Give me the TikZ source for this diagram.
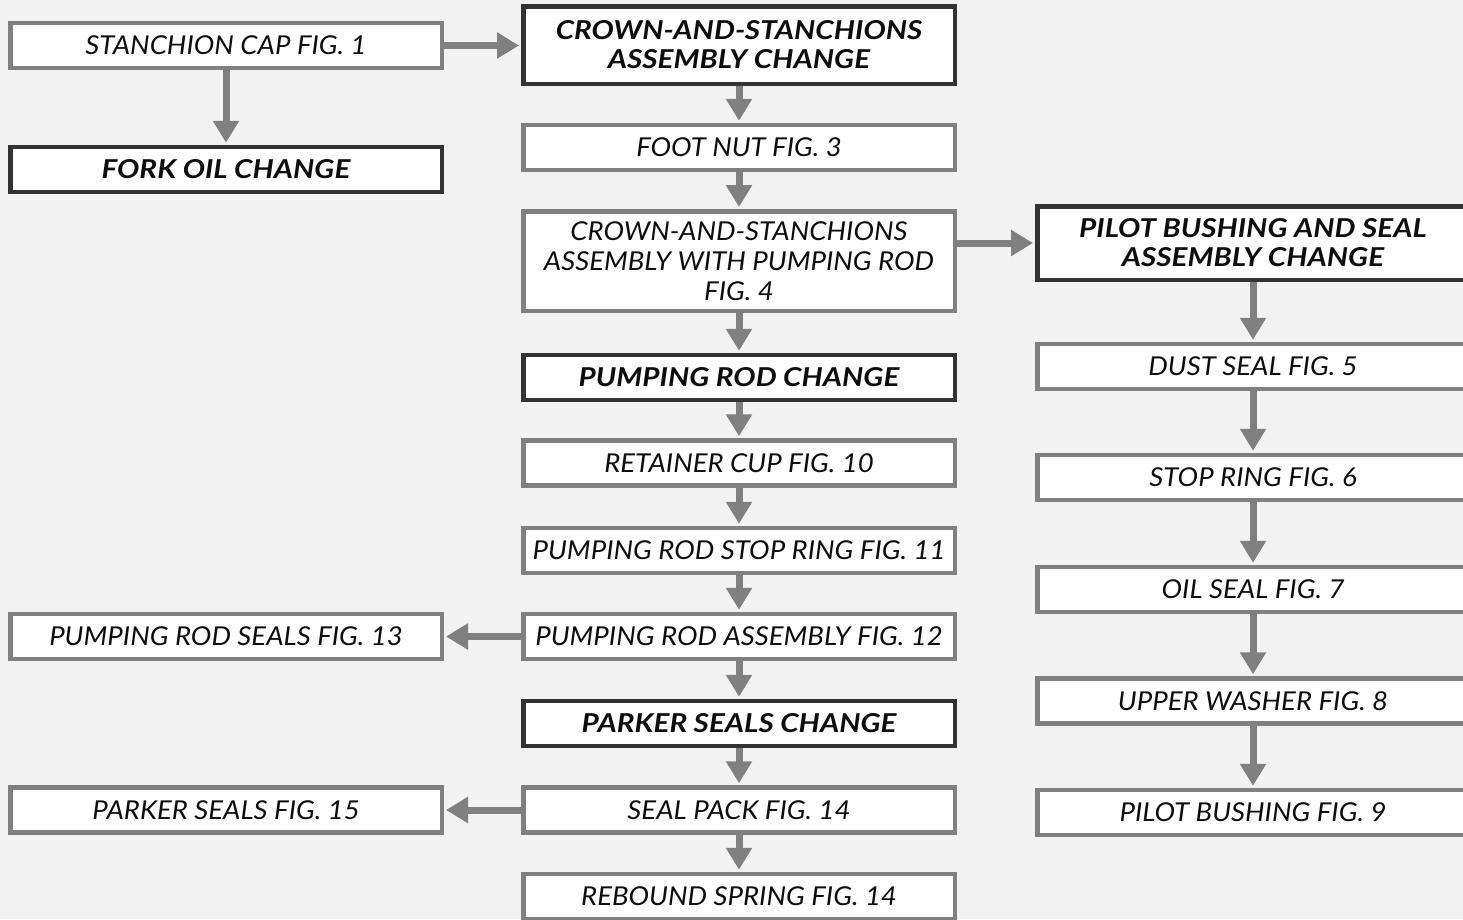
\documentclass[tikz,border=0pt]{standalone}
\usepackage{fontspec}
\setmainfont{Lato}
\newfontfamily\partfont[FakeStretch=1.06]{Lato}
\newfontfamily\headfont[FakeStretch=1.14]{Lato}
\usetikzlibrary{arrows.meta}
\definecolor{pagegray}{HTML}{F2F2F2}
\definecolor{linegray}{HTML}{808080}
\definecolor{darkline}{HTML}{333333}
\definecolor{textblack}{HTML}{0D0D0D}

\begin{document}
\begin{tikzpicture}[x=1pt,y=-1pt,
    partbox/.style={draw=linegray, line width=4.5pt, fill=white,
      minimum width=431.5pt, minimum height=45pt, inner sep=0pt,
      align=center, text=textblack,
      font=\partfont\fontsize{26}{30}\selectfont\itshape},
    changebox/.style={partbox, draw=darkline,
      font=\headfont\fontsize{26}{29}\selectfont\bfseries\itshape},
    flow/.style={draw=linegray, line width=7pt,
      -{Triangle[width=25pt,length=22pt]}, shorten >=2pt}]
  % Background
  \fill[pagegray] (0,0) rectangle (1463,919);
  \useasboundingbox (0,0) rectangle (1463,919);
  % Left column
  \node[partbox] (cap) at (226,45.5) {STANCHION CAP FIG. 1};
  \node[changebox] (forkoil) at (226,169.5) {FORK OIL CHANGE};
  \node[partbox] (rodseals) at (226,636.5) {PUMPING ROD SEALS FIG. 13};
  \node[partbox] (parkerseals) at (226,810) {PARKER SEALS FIG. 15};
  % Middle column
  \node[changebox, minimum height=77.5pt] (crown) at (739,45)
    {CROWN-AND-STANCHIONS\\ASSEMBLY CHANGE};
  \node[partbox] (footnut) at (739,147.5) {FOOT NUT FIG. 3};
  \node[partbox, minimum height=99.5pt] (assy) at (739,261)
    {CROWN-AND-STANCHIONS\\ASSEMBLY WITH PUMPING ROD\\FIG. 4};
  \node[changebox] (pumpchg) at (739,377.5) {PUMPING ROD CHANGE};
  \node[partbox] (retcup) at (739,463) {RETAINER CUP FIG. 10};
  \node[partbox] (rodstop) at (739,550.5) {PUMPING ROD STOP RING FIG. 11};
  \node[partbox] (rodassy) at (739,636.5) {PUMPING ROD ASSEMBLY FIG. 12};
  \node[changebox] (parkerchg) at (739,723.5) {PARKER SEALS CHANGE};
  \node[partbox] (sealpack) at (739,810) {SEAL PACK FIG. 14};
  \node[partbox] (rebound) at (739,896.5) {REBOUND SPRING FIG. 14};
  % Right column
  \node[changebox, minimum height=73.5pt] (pilot) at (1253,243)
    {PILOT BUSHING AND SEAL\\ASSEMBLY CHANGE};
  \node[partbox] (dust) at (1253,366.5) {DUST SEAL FIG. 5};
  \node[partbox] (stopring) at (1253,477.5) {STOP RING FIG. 6};
  \node[partbox] (oilseal) at (1253,589.5) {OIL SEAL FIG. 7};
  \node[partbox] (washer) at (1253,701) {UPPER WASHER FIG. 8};
  \node[partbox] (bushing) at (1253,812.5) {PILOT BUSHING FIG. 9};
  % Arrows
  \draw[flow] (cap.east) -- (cap.east -| crown.west);
  \draw[flow] (cap) -- (forkoil);
  \draw[flow] (crown) -- (footnut);
  \draw[flow] (footnut) -- (assy);
  \draw[flow] (assy.east |- pilot.west) -- (pilot.west);
  \draw[flow] (assy) -- (pumpchg);
  \draw[flow] (pumpchg) -- (retcup);
  \draw[flow] (retcup) -- (rodstop);
  \draw[flow] (rodstop) -- (rodassy);
  \draw[flow] (rodassy) -- (rodseals);
  \draw[flow] (rodassy) -- (parkerchg);
  \draw[flow] (parkerchg) -- (sealpack);
  \draw[flow] (sealpack) -- (parkerseals);
  \draw[flow] (sealpack) -- (rebound);
  \foreach \a/\b in {pilot/dust,dust/stopring,stopring/oilseal,oilseal/washer,washer/bushing}
    \draw[flow] (\a) -- (\b);
\end{tikzpicture}
\end{document}
